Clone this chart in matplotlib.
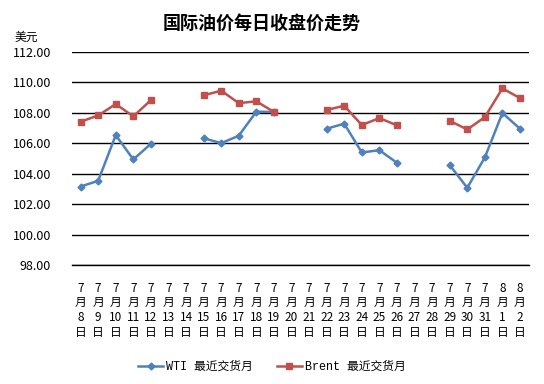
import numpy as np
import matplotlib.pyplot as plt

plt.rcParams['font.family'] = ['Noto Sans CJK SC', 'DejaVu Sans']

# dates 7/8 .. 8/2
months = [7] * 24 + [8, 8]
days = list(range(8, 32)) + [1, 2]

nan = np.nan
wti = [103.15, 103.53, 106.53, 104.93, 105.96, nan, nan,
       106.33, 106.00, 106.49, 108.07, 108.05, nan, nan,
       106.95, 107.28, 105.39, 105.54, 104.71, nan, nan,
       104.56, 103.07, 105.06, 107.98, 106.95]
brent = [107.41, 107.82, 108.57, 107.76, 108.83, nan, nan,
         109.14, 109.45, 108.63, 108.75, 108.05, nan, nan,
         108.18, 108.46, 107.19, 107.65, 107.17, nan, nan,
         107.47, 106.90, 107.71, 109.60, 108.96]

labels = [f"{m}\n月\n{d}\n日" for m, d in zip(months, days)]
x = np.arange(len(labels))

fig = plt.figure(figsize=(5.44, 3.84), dpi=100)
ax = fig.add_axes([0.132, 0.31, 0.84, 0.555])

ax.plot(x, wti, color="#4F81BD", lw=1.8, marker="D", ms=3.5, label="WTI 最近交货月")
ax.plot(x, brent, color="#C0504D", lw=1.8, marker="s", ms=5, label="Brent 最近交货月")

ax.set_xlim(-0.5, len(labels) - 0.5)
ax.set_ylim(98, 112)
yt = np.arange(98, 112.1, 2)
ax.set_yticks(yt)
ax.set_yticklabels([f"{v:.2f}" for v in yt], fontsize=9)
ax.grid(axis="y", color="black", lw=1)
ax.axhline(98, color="black", lw=1, clip_on=False, zorder=0.5)
ax.set_axisbelow(True)
for s in ax.spines.values():
    s.set_visible(False)
ax.tick_params(length=0)
ax.tick_params(axis="y", pad=15)
ax.set_xticks(x)
ax.set_xticklabels(labels, fontsize=8.5, linespacing=1.18)
ax.tick_params(axis="x", pad=12)

fig.text(0.481, 0.94, "国际油价每日收盘价走势", fontsize=13, fontweight="bold",
         ha="center", va="center")
fig.text(0.048, 0.903, "美元", fontsize=8.5, ha="center", va="center")

leg = fig.legend(loc="center", bbox_to_anchor=(0.5, 0.045), ncol=2, frameon=False,
                 handlelength=2.1, columnspacing=2, handletextpad=0.3,
                 prop={'family': ['Liberation Mono', 'Noto Sans CJK SC'], 'size': 8.5})

fig.savefig("out.png", dpi=100)
